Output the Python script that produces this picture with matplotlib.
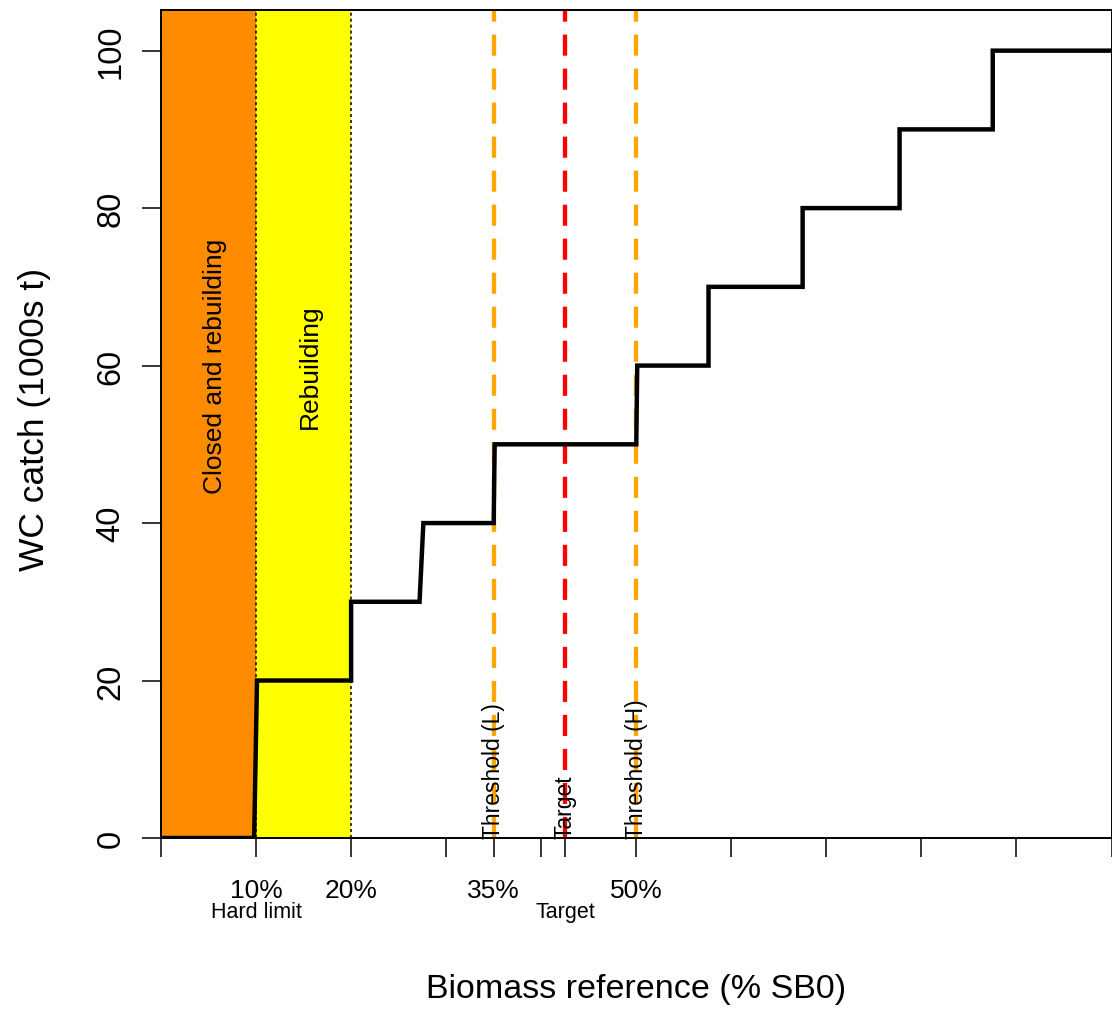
import numpy as np
import matplotlib.pyplot as plt

plt.rcParams['font.family'] = ['Liberation Sans', 'DejaVu Sans']

# harvest control rule: biomass (fraction of SB0) vs catch (1000s t)
biomass = [0, 0.098, 0.101, 0.2, 0.2, 0.272, 0.276, 0.35, 0.351, 0.5, 0.501,
           0.576, 0.576, 0.675, 0.675, 0.777, 0.777, 0.875, 0.875, 1.0]
catch = [0, 0, 20, 20, 30, 30, 40, 40, 50, 50, 60, 60, 70, 70, 80, 80,
         90, 90, 100, 100]

hard_limit = 0.1
soft_limit = 0.2
thresh_low = 0.35
target = 0.425
thresh_high = 0.5

xticks = [0, 0.1, 0.2, 0.3, 0.35, 0.4, 0.425, 0.5, 0.6, 0.7, 0.8, 0.9, 1.0]
xticklabels = ['', '10%', '20%', '', '35%', '', '', '50%', '', '', '', '', '']
yticks = [0, 20, 40, 60, 80, 100]

#%%
fig = plt.figure(figsize=(11.12, 10.12), dpi=100)
ax = fig.add_axes([161/1112, 1 - 839/1012, 1 - 161/1112 - 0.0004,
                   (839 - 10.7)/1012])
ax.set_xlim(0, 1)
ax.set_ylim(0, 105.2)

# zones
ax.axvspan(0, hard_limit, color='#FF8C00', lw=0, zorder=0)
ax.axvspan(hard_limit, soft_limit, color='#FFFF00', lw=0, zorder=0)
for xv in [hard_limit, soft_limit]:
    ax.axvline(xv, color='black', lw=1.1, ls=(0, (2, 1.9)), zorder=1)

ax.text(0.057, 60, 'Closed and rebuilding', rotation=90, ha='center',
        va='center', fontsize=19)
ax.text(0.157, 60, 'Rebuilding', rotation=90, ha='center', va='center',
        fontsize=19)

# reference lines
dash = (0, (4.9, 3.0))
ax.axvline(thresh_low, color='#FFA500', lw=3.1, ls=dash, zorder=2)
ax.axvline(thresh_high, color='#FFA500', lw=3.1, ls=dash, zorder=2)
ax.axvline(target, color='#FF0000', lw=3.1, ls=dash, zorder=2)

ax.text(thresh_low, 0, 'Threshold (L)', rotation=90, ha='center',
        va='bottom', fontsize=16.5, zorder=4)
ax.text(target, 0, 'Target', rotation=90, ha='center', va='bottom',
        fontsize=16.5, zorder=4)
ax.text(thresh_high, 0, 'Threshold (H)', rotation=90, ha='center',
        va='bottom', fontsize=16.5, zorder=4)

ax.plot(biomass, catch, color='black', lw=3.2, zorder=3,
        solid_joinstyle='miter')

# axes
ax.set_xticks(xticks)
ax.set_xticklabels(xticklabels, fontsize=19)
ax.set_yticks(yticks)
ax.set_yticklabels([str(v) for v in yticks], fontsize=23.5, rotation=90,
                   va='center')
ax.tick_params(axis='both', direction='out', length=14, width=1.1)
ax.tick_params(axis='x', pad=15)
ax.tick_params(axis='y', pad=11)
for sp in ax.spines.values():
    sp.set_linewidth(1.4)

trans = ax.get_xaxis_transform()
ax.text(hard_limit, -0.089, 'Hard limit', transform=trans, ha='center',
        va='center', fontsize=15.5)
ax.text(target, -0.089, 'Target', transform=trans, ha='center',
        va='center', fontsize=15.5)

fig.text(636.5/1112, 1 - 990/1012, 'Biomass reference (% SB0)',
         ha='center', va='center', fontsize=24.5)
fig.text(35/1112, 1 - 419/1012, 'WC catch (1000s t)', rotation=90,
         ha='center', va='center', fontsize=25.5)

fig.savefig('out.png', dpi=100)
